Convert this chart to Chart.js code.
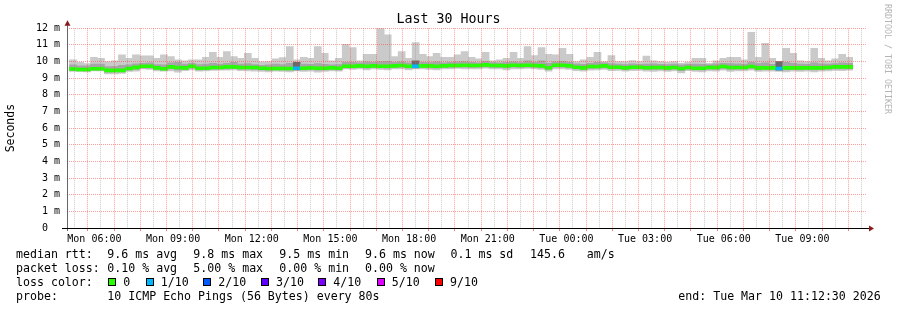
<!DOCTYPE html>
<html>
<head>
<meta charset="utf-8">
<title>Last 30 Hours</title>
<script src="https://cdn.jsdelivr.net/npm/chart.js@4.4.1/dist/chart.umd.min.js"></script>
<style>
  html, body { margin: 0; padding: 0; background: #fff; }
  #wrap { position: relative; width: 897px; height: 310px; overflow: hidden; }
  #chart { position: absolute; left: 0; top: 0; }
  .lg { position: absolute; font-family: 'DejaVu Sans Mono', monospace; font-size: 11.6px; line-height: 14px; color: #000; white-space: pre; }
  .sw { position: absolute; width: 8px; height: 8px; box-sizing: border-box; border: 1px solid #000; }
  #mark { position: absolute; left: 883px; top: 4px; writing-mode: vertical-rl; font-family: 'DejaVu Sans Mono', monospace; font-size: 8.3px; line-height: 9px; color: #b4b4b4; white-space: pre; }
</style>
</head>
<body>
<div id="wrap">
  <canvas id="chart" width="897" height="310" style="width:897px;height:310px"></canvas>
  <div id="legend"></div>
  <div id="mark">RRDTOOL / TOBI OETIKER</div>
</div>
<script>
// Ventana del gráfico: Mon 05:12:30 -> Tue 11:12:30 (horas desde Mon 00:00)
const startHour = 5 + 12.5 / 60;
const endHour = startHour + 30;
// Cada bin de la RRA cubre 16 minutos; el primero termina a las 05:19
const firstBinEnd = 5 + 19 / 60;
const binMinutes = 16;

// Valores (ms), 112 bins
const maxRtt = [
  10.1, 9.96, 9.88, 10.26, 10.2, 10.0, 10.05, 10.4, 10.2, 10.4,
  10.35, 10.35, 10.2, 10.4, 10.3, 10.1, 10.05, 10.1, 10.1, 10.26,
  10.56, 10.26, 10.6, 10.3, 10.2, 10.5, 10.2, 9.98, 10.0, 10.16,
  10.24, 10.9, 10.1, 10.26, 10.2, 10.9, 10.5, 10.05, 10.2, 11.04,
  10.84, 10.05, 10.44, 10.44, 12.0, 11.6, 10.3, 10.6, 10.2, 11.14,
  10.44, 10.3, 10.5, 10.26, 10.26, 10.4, 10.6, 10.26, 10.16, 10.55,
  10.05, 10.1, 10.2, 10.55, 10.2, 10.9, 10.36, 10.84, 10.44, 10.4,
  10.8, 10.44, 10.0, 10.1, 10.26, 10.55, 10.0, 10.36, 10.0, 10.0,
  10.06, 10.0, 10.33, 10.05, 10.0, 9.96, 10.0, 9.9, 9.95, 10.2,
  10.2, 9.9, 10.05, 10.2, 10.26, 10.26, 10.1, 11.75, 10.26, 11.1,
  10.2, 10.0, 10.8, 10.5, 10.05, 10.0, 10.8, 10.2, 10.05, 10.16,
  10.44, 10.26
];
const upperRtt = [
  9.8, 9.75, 9.75, 9.85, 9.85, 9.7, 9.72, 9.78, 9.8, 9.86,
  9.9, 9.92, 9.82, 9.8, 9.92, 9.95, 9.85, 9.9, 9.82, 9.85,
  9.9, 9.85, 9.9, 9.95, 9.85, 9.88, 9.82, 9.78, 9.8, 9.85,
  9.82, 9.9, 9.95, 9.85, 9.84, 9.88, 9.84, 9.8, 9.82, 9.95,
  9.96, 9.92, 9.98, 9.95, 10.0, 10.02, 9.95, 9.98, 9.92, 10.05,
  9.95, 9.94, 9.98, 9.92, 9.95, 9.98, 10.0, 9.95, 9.92, 10.02,
  9.94, 9.92, 9.95, 9.98, 9.94, 10.05, 9.96, 10.05, 9.9, 9.98,
  10.02, 9.96, 9.86, 9.84, 9.9, 9.95, 9.92, 9.88, 9.85, 9.82,
  9.86, 9.84, 9.85, 9.86, 9.84, 9.82, 9.85, 9.8, 9.84, 9.85,
  9.84, 9.82, 9.86, 9.9, 9.88, 9.86, 9.85, 9.95, 9.88, 9.92,
  9.84, 10.0, 9.95, 9.9, 9.85, 9.84, 9.92, 9.86, 9.85, 9.88,
  9.92, 9.9
];
const medianRtt = [
  9.55, 9.52, 9.52, 9.57, 9.57, 9.47, 9.47, 9.47, 9.58, 9.65,
  9.72, 9.72, 9.62, 9.57, 9.68, 9.64, 9.62, 9.72, 9.6, 9.6,
  9.64, 9.64, 9.68, 9.68, 9.64, 9.64, 9.64, 9.6, 9.58, 9.58,
  9.58, 9.58, 9.6, 9.6, 9.62, 9.6, 9.6, 9.62, 9.6, 9.72,
  9.72, 9.74, 9.72, 9.74, 9.72, 9.72, 9.74, 9.76, 9.72, 9.72,
  9.74, 9.74, 9.72, 9.74, 9.76, 9.76, 9.78, 9.76, 9.76, 9.8,
  9.76, 9.76, 9.74, 9.78, 9.76, 9.78, 9.76, 9.74, 9.63, 9.78,
  9.78, 9.74, 9.66, 9.62, 9.7, 9.7, 9.74, 9.66, 9.66, 9.62,
  9.66, 9.66, 9.63, 9.64, 9.64, 9.62, 9.64, 9.58, 9.64, 9.6,
  9.6, 9.64, 9.64, 9.7, 9.64, 9.64, 9.64, 9.7, 9.62, 9.62,
  9.62, 9.58, 9.62, 9.62, 9.62, 9.62, 9.62, 9.62, 9.64, 9.68,
  9.68, 9.68
];
const lowerRtt = [
  9.45, 9.44, 9.44, 9.48, 9.48, 9.36, 9.38, 9.38, 9.48, 9.52,
  9.6, 9.6, 9.52, 9.48, 9.55, 9.5, 9.52, 9.6, 9.5, 9.52,
  9.54, 9.55, 9.56, 9.58, 9.54, 9.55, 9.52, 9.5, 9.48, 9.5,
  9.5, 9.48, 9.5, 9.5, 9.52, 9.48, 9.5, 9.52, 9.5, 9.62,
  9.62, 9.64, 9.6, 9.64, 9.62, 9.6, 9.64, 9.66, 9.6, 9.62,
  9.64, 9.62, 9.6, 9.64, 9.65, 9.66, 9.66, 9.64, 9.66, 9.68,
  9.65, 9.64, 9.62, 9.66, 9.65, 9.66, 9.64, 9.62, 9.52, 9.66,
  9.66, 9.62, 9.55, 9.52, 9.58, 9.6, 9.62, 9.55, 9.55, 9.52,
  9.55, 9.55, 9.52, 9.52, 9.54, 9.5, 9.54, 9.45, 9.54, 9.5,
  9.5, 9.54, 9.52, 9.58, 9.52, 9.54, 9.54, 9.58, 9.5, 9.52,
  9.52, 9.48, 9.5, 9.52, 9.5, 9.52, 9.5, 9.52, 9.54, 9.56,
  9.56, 9.56
];
const minRtt = [
  9.4, 9.4, 9.38, 9.44, 9.44, 9.26, 9.26, 9.28, 9.4, 9.42,
  9.55, 9.52, 9.44, 9.42, 9.44, 9.36, 9.45, 9.5, 9.42, 9.44,
  9.46, 9.48, 9.48, 9.5, 9.45, 9.44, 9.42, 9.4, 9.38, 9.42,
  9.4, 9.38, 9.44, 9.4, 9.42, 9.36, 9.4, 9.44, 9.42, 9.55,
  9.52, 9.56, 9.5, 9.55, 9.52, 9.5, 9.55, 9.56, 9.5, 9.55,
  9.55, 9.52, 9.5, 9.55, 9.56, 9.58, 9.56, 9.55, 9.56, 9.6,
  9.56, 9.55, 9.5, 9.56, 9.55, 9.58, 9.55, 9.52, 9.42, 9.55,
  9.56, 9.52, 9.45, 9.42, 9.48, 9.5, 9.52, 9.45, 9.46, 9.42,
  9.45, 9.46, 9.42, 9.4, 9.44, 9.4, 9.44, 9.32, 9.45, 9.4,
  9.38, 9.44, 9.42, 9.48, 9.4, 9.44, 9.44, 9.48, 9.4, 9.42,
  9.42, 9.4, 9.38, 9.42, 9.4, 9.42, 9.38, 9.42, 9.44, 9.46,
  9.45, 9.48
];
// Pings perdidos por bin (de 10)
const lossCount = [
  0, 0, 0, 0, 0, 0, 0, 0, 0, 0,  0, 0, 0, 0, 0, 0, 0, 0, 0, 0,
  0, 0, 0, 0, 0, 0, 0, 0, 0, 0,  0, 0, 1, 0, 0, 0, 0, 0, 0, 0,
  0, 0, 0, 0, 0, 0, 0, 0, 0, 1,  0, 0, 0, 0, 0, 0, 0, 0, 0, 0,
  0, 0, 0, 0, 0, 0, 0, 0, 0, 0,  0, 0, 0, 0, 0, 0, 0, 0, 0, 0,
  0, 0, 0, 0, 0, 0, 0, 0, 0, 0,  0, 0, 0, 0, 0, 0, 0, 0, 0, 0,
  0, 1, 0, 0, 0, 0, 0, 0, 0, 0,  0, 0
];

// Leyenda de colores de pérdida
const lossLabels = ['0', '1/10', '2/10', '3/10', '4/10', '5/10', '9/10'];
const lossColors = ['#26ff00', '#00b8ff', '#0059ff', '#5e00ff', '#7e00ff', '#dd00ff', '#ff0000'];

// Texto estadístico de la parte inferior
const rttStats = ['9.6 ms avg', '9.8 ms max', '9.5 ms min', '9.6 ms now', '0.1 ms sd', '145.6', 'am/s'];
const lossStats = ['0.10 % avg', '5.00 % max', '0.00 % min', '0.00 % now'];
const probeText = '10 ICMP Echo Pings (56 Bytes) every 80s';
const endText = 'end: Tue Mar 10 11:12:30 2026';

const FONT = "'DejaVu Sans Mono', monospace";
const MAJOR_GRID = 'rgba(255,60,60,0.5)';
const MINOR_GRID = 'rgba(140,140,140,0.45)';

// Centro de cada bin en horas
const binTimes = maxRtt.map((_, k) => firstBinEnd - binMinutes / 120 + k * binMinutes / 60);

function hourLabel(h) {
  const day = h < 24 ? 'Mon' : 'Tue';
  const hh = String(h % 24).padStart(2, '0');
  return `${day} ${hh}:00`;
}

function halfSteps(from, to) {
  const out = [];
  for (let v = from; v <= to + 1e-9; v += 0.5) out.push({ value: v });
  return out;
}

function isWhole(c) {
  return c && c.tick && c.tick.value % 1 === 0;
}

// Ejes con flecha como los de RRDtool
const rrdAxes = {
  id: 'rrdAxes',
  afterDraw(chart) {
    const { ctx, chartArea: a } = chart;
    ctx.save();
    ctx.lineWidth = 1;
    ctx.strokeStyle = '#666';
    ctx.beginPath();
    ctx.moveTo(a.left + 0.5, a.bottom + 3);
    ctx.lineTo(a.left + 0.5, a.top - 4);
    ctx.stroke();
    ctx.strokeStyle = '#000';
    ctx.beginPath();
    ctx.moveTo(a.left - 5, a.bottom + 0.5);
    ctx.lineTo(a.right + 3, a.bottom + 0.5);
    ctx.stroke();
    ctx.fillStyle = '#8a1c1c';
    ctx.beginPath();
    ctx.moveTo(a.left - 2.5, a.top - 2.5);
    ctx.lineTo(a.left + 3.5, a.top - 2.5);
    ctx.lineTo(a.left + 0.5, a.top - 8);
    ctx.closePath();
    ctx.fill();
    ctx.beginPath();
    ctx.moveTo(a.right + 2, a.bottom - 2.5);
    ctx.lineTo(a.right + 2, a.bottom + 3.5);
    ctx.lineTo(a.right + 7, a.bottom + 0.5);
    ctx.closePath();
    ctx.fill();
    ctx.restore();
  }
};

const barCommon = {
  type: 'bar',
  grouped: false,
  barPercentage: 1,
  categoryPercentage: 1,
  borderWidth: 0
};

// Chart.js pinta encima los datasets con menor 'order'
const ctx = document.getElementById('chart').getContext('2d');
new Chart(ctx, {
  type: 'bar',
  data: {
    datasets: [
      {
        ...barCommon,
        label: 'smoke',
        order: 3,
        data: binTimes.map((t, k) => ({ x: t, y: [minRtt[k], maxRtt[k]] })),
        backgroundColor: '#cacaca'
      },
      {
        ...barCommon,
        label: 'smoke inner',
        order: 2,
        data: binTimes.map((t, k) => ({ x: t, y: [lowerRtt[k], upperRtt[k]] })),
        backgroundColor: lossCount.map(l => l > 0 ? '#6a6a6a' : '#a6a6a6')
      },
      {
        ...barCommon,
        label: 'median rtt',
        order: 1,
        data: binTimes.map((t, k) => ({ x: t, y: [medianRtt[k] - 0.09, medianRtt[k] + 0.09] })),
        backgroundColor: lossCount.map(l => lossColors[l])
      }
    ]
  },
  options: {
    responsive: false,
    animation: false,
    devicePixelRatio: 1,
    layout: { padding: 0 },
    plugins: {
      legend: { display: false },
      tooltip: { enabled: false },
      title: {
        display: true,
        text: 'Last 30 Hours',
        color: '#000',
        font: { family: FONT, size: 13.3, weight: 'normal', lineHeight: 1.2 },
        padding: { top: 12, bottom: 0.3 }
      }
    },
    scales: {
      x: {
        type: 'linear',
        min: startHour,
        max: endHour,
        afterBuildTicks: s => { s.ticks = halfSteps(5.5, 35); },
        afterFit: s => { s.height = 82; },
        // en v4 el guion de la rejilla sale de border.dash
        border: { display: false, dash: [1, 1] },
        grid: {
          z: 1,
          color: c => isWhole(c) ? MAJOR_GRID : MINOR_GRID,
          drawTicks: true,
          tickLength: 3,
          tickColor: c => isWhole(c) ? 'rgba(255,0,0,0.5)' : 'rgba(0,0,0,0)'
        },
        ticks: {
          autoSkip: false,
          minRotation: 0,
          maxRotation: 0,
          padding: 2,
          color: '#000',
          font: { family: FONT, size: 10 },
          callback: v => v % 3 === 0 ? hourLabel(v) : ''
        }
      },
      y: {
        min: 0,
        max: 12,
        afterBuildTicks: s => { s.ticks = halfSteps(0, 12); },
        afterFit: s => { s.width = 67; },
        border: { display: false, dash: [1, 1] },
        grid: {
          z: 1,
          color: c => isWhole(c) ? MAJOR_GRID : MINOR_GRID,
          drawTicks: false
        },
        ticks: {
          padding: 7,
          color: '#000',
          font: { family: FONT, size: 10 },
          callback: v => v % 1 !== 0 ? '' : (v === 0 ? '0  ' : `${v} m`)
        },
        title: {
          display: true,
          text: 'Seconds',
          color: '#000',
          font: { family: FONT, size: 11.5 },
          padding: { top: 4, bottom: 0 }
        }
      },
      yr: {
        position: 'right',
        min: 0,
        max: 12,
        afterFit: s => { s.width = 30; },
        border: { display: false },
        grid: { display: false },
        ticks: { display: false }
      }
    }
  },
  plugins: [rrdAxes]
});

// Leyenda inferior en HTML
function addText(x, yCenter, text) {
  const el = document.createElement('div');
  el.className = 'lg';
  el.style.left = x + 'px';
  el.style.top = (yCenter - 7) + 'px';
  el.textContent = text;
  document.getElementById('legend').appendChild(el);
}

function addSwatch(x, yTop, color) {
  const el = document.createElement('div');
  el.className = 'sw';
  el.style.left = x + 'px';
  el.style.top = yTop + 'px';
  el.style.background = color;
  document.getElementById('legend').appendChild(el);
}

const statCols = [107.3, 193.3, 279.3, 365, 450.5, 530, 586.7];
addText(16, 254.3, 'median rtt:');
rttStats.forEach((s, i) => addText(statCols[i], 254.3, s));
addText(16, 268.3, 'packet loss:');
lossStats.forEach((s, i) => addText(statCols[i], 268.3, s));

addText(16, 282.3, 'loss color:');
const swatchCols = [108.3, 145.7, 203.3, 261, 318.3, 376.7, 435];
lossLabels.forEach((l, i) => {
  addSwatch(swatchCols[i], 278.3, lossColors[i]);
  addText(swatchCols[i] + 15, 282.3, l);
});

addText(16, 296.3, 'probe:');
addText(107.3, 296.3, probeText);
addText(678.3, 296.3, endText);
</script>
</body>
</html>
